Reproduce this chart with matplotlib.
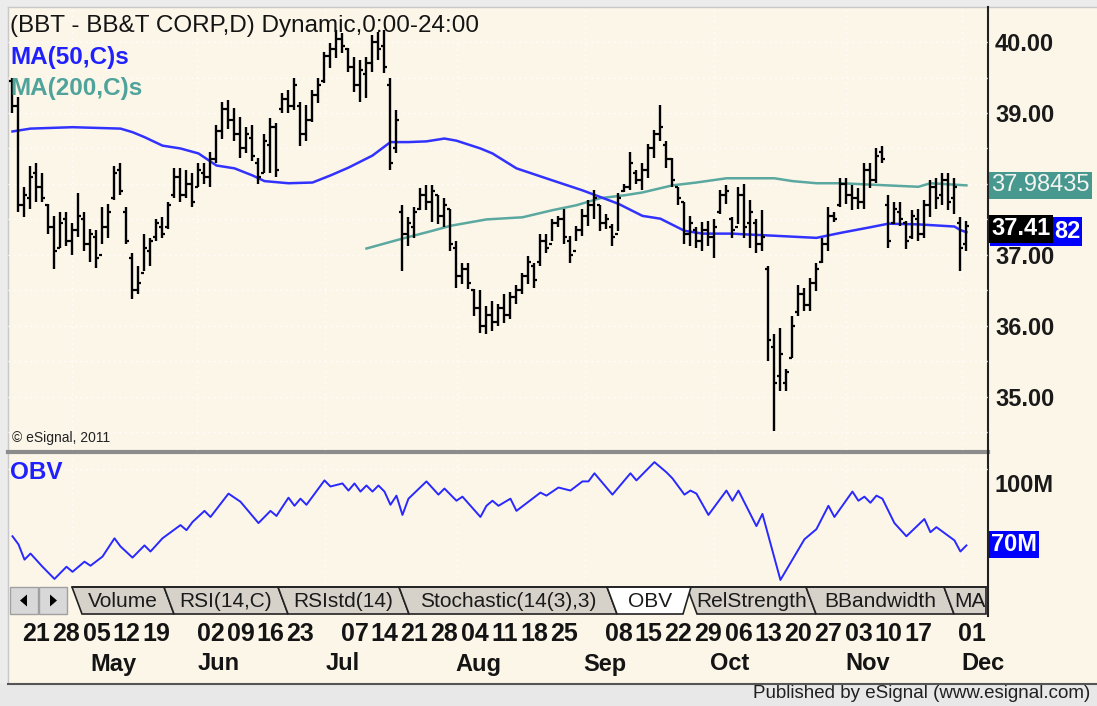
import matplotlib
matplotlib.use("Agg")
import matplotlib.pyplot as plt
from matplotlib.patches import Rectangle, Polygon
from matplotlib.transforms import blended_transform_factory
import numpy as np

plt.rcParams['font.family'] = ['Liberation Sans', 'DejaVu Sans']

# daily bars, BBT, one entry per trading day (index 0 = first bar on screen)
highs = [39.50, 39.22, 37.95, 38.25, 38.30, 38.15, 37.72, 37.55, 37.60, 37.60,
         37.45, 37.87, 37.60, 37.37, 37.35, 37.67, 37.72, 38.26, 38.30, 37.67,
         37.02, 36.85, 37.30, 37.24, 37.50, 37.53, 37.74, 38.23, 38.22, 38.19,
         38.16, 38.29, 38.30, 38.45, 38.83, 39.15, 39.18, 39.07, 38.94, 38.80,
         38.83, 38.37, 38.71, 38.93, 38.86, 39.28, 39.32, 39.50, 39.15, 39.11,
         39.32, 39.50, 39.86, 39.99, 40.17, 40.13, 39.92, 39.79, 39.75, 39.79,
         40.10, 40.14, 40.17, 39.49, 39.04, 37.70, 37.53, 37.67, 37.94, 37.98,
         37.98, 37.84, 37.80, 37.65, 37.20, 36.89, 36.89, 36.52, 36.50, 36.28,
         36.35, 36.31, 36.45, 36.47, 36.57, 36.75, 36.99, 36.88, 37.30, 37.30,
         37.51, 37.55, 37.65, 37.27, 37.41, 37.65, 37.77, 37.91, 37.70, 37.58,
         37.44, 37.87, 38.00, 38.45, 38.19, 38.30, 38.57, 38.76, 39.11, 38.61,
         38.36, 37.95, 37.74, 37.55, 37.39, 37.46, 37.48, 37.51, 37.91, 37.98,
         37.53, 37.95, 38.00, 37.77, 37.50, 37.63, 36.85, 35.89, 35.97, 35.39,
         36.14, 36.57, 36.54, 36.68, 36.89, 37.24, 37.67, 37.60, 38.08, 38.08,
         37.98, 37.94, 38.30, 38.30, 38.50, 38.54, 37.84, 37.74, 37.74, 37.48,
         37.63, 37.65, 37.77, 38.05, 38.08, 38.15, 38.15, 38.09, 37.53, 37.48]
lows = [39.00, 37.60, 37.53, 37.65, 37.75, 37.75, 37.30, 36.80, 37.10, 37.13,
        37.00, 37.25, 37.05, 36.90, 36.82, 37.16, 37.24, 37.77, 37.84, 37.16,
        36.38, 36.45, 36.78, 36.85, 37.20, 37.24, 37.37, 37.80, 37.74, 37.80,
        37.67, 37.95, 38.00, 37.95, 38.29, 38.64, 38.78, 38.60, 38.37, 38.43,
        38.33, 38.00, 38.15, 38.16, 38.10, 39.00, 39.00, 39.04, 38.54, 38.61,
        38.87, 39.14, 39.42, 39.63, 39.77, 39.84, 39.58, 39.29, 39.15, 39.21,
        39.58, 39.75, 39.56, 38.19, 38.43, 36.78, 37.13, 37.24, 37.63, 37.63,
        37.46, 37.44, 37.39, 37.06, 36.54, 36.59, 36.52, 36.14, 35.90, 35.89,
        35.93, 36.00, 36.04, 36.10, 36.31, 36.45, 36.59, 36.54, 36.85, 37.02,
        37.20, 37.39, 37.16, 36.89, 37.20, 37.27, 37.41, 37.51, 37.34, 37.37,
        37.13, 37.34, 37.88, 37.91, 38.00, 37.91, 38.08, 38.37, 38.61, 38.23,
        37.95, 37.70, 37.16, 37.13, 37.10, 37.06, 37.13, 36.96, 37.58, 37.72,
        37.24, 37.44, 37.24, 37.10, 37.03, 37.06, 35.50, 34.52, 35.08, 35.08,
        35.55, 36.14, 36.21, 36.21, 36.49, 36.88, 37.06, 37.46, 37.67, 37.72,
        37.63, 37.65, 37.65, 37.94, 38.02, 38.30, 37.10, 37.44, 37.41, 37.09,
        37.23, 37.20, 37.24, 37.53, 37.65, 37.70, 37.63, 37.58, 36.78, 37.06]
opens = [39.45, 39.10, 37.70, 37.80, 38.15, 37.95, 37.70, 37.40, 37.10, 37.50,
         37.20, 37.35, 37.50, 37.15, 37.25, 37.00, 37.40, 37.80, 38.20, 37.60,
         36.95, 36.50, 36.75, 37.05, 37.25, 37.40, 37.40, 37.85, 38.10, 37.85,
         38.00, 37.95, 38.15, 38.10, 38.35, 38.75, 39.05, 38.90, 38.70, 38.50,
         38.65, 38.30, 38.15, 38.55, 38.80, 39.05, 39.20, 39.10, 39.10, 38.70,
         38.90, 39.25, 39.45, 39.80, 39.90, 40.05, 39.90, 39.65, 39.40, 39.55,
         39.70, 40.00, 39.95, 39.40, 38.50, 37.60, 37.30, 37.40, 37.65, 37.85,
         37.75, 37.85, 37.55, 37.65, 37.10, 36.70, 36.80, 36.50, 36.25, 36.00,
         36.15, 36.05, 36.25, 36.15, 36.40, 36.50, 36.70, 36.85, 36.90, 37.20,
         37.15, 37.45, 37.50, 37.20, 37.05, 37.35, 37.55, 37.70, 37.70, 37.45,
         37.40, 37.30, 37.90, 37.95, 38.15, 38.05, 38.20, 38.50, 38.70, 38.55,
         38.35, 37.95, 37.75, 37.30, 37.35, 37.20, 37.35, 37.25, 37.60, 37.85,
         37.50, 37.40, 37.85, 37.45, 37.45, 37.15, 36.80, 35.70, 35.30, 35.20,
         35.55, 36.20, 36.45, 36.30, 36.60, 36.90, 37.15, 37.55, 37.70, 38.00,
         37.85, 37.80, 37.75, 38.20, 38.05, 38.45, 37.70, 37.45, 37.60, 37.45,
         37.25, 37.50, 37.30, 37.70, 37.95, 37.85, 38.05, 37.80, 37.45, 37.15]
closes = [39.10, 37.70, 37.85, 38.10, 37.95, 37.80, 37.40, 37.05, 37.45, 37.20,
          37.35, 37.55, 37.15, 37.30, 36.95, 37.40, 37.60, 38.15, 37.90, 37.20,
          36.50, 36.60, 37.10, 37.20, 37.45, 37.30, 37.70, 38.10, 37.85, 38.00,
          37.75, 38.20, 38.10, 38.35, 38.75, 39.05, 38.90, 38.70, 38.50, 38.70,
          38.40, 38.10, 38.60, 38.80, 38.20, 39.20, 39.10, 39.40, 38.70, 38.90,
          39.25, 39.40, 39.80, 39.90, 40.05, 39.95, 39.65, 39.40, 39.60, 39.70,
          40.00, 39.90, 39.65, 38.30, 38.90, 37.30, 37.45, 37.60, 37.85, 37.75,
          37.90, 37.55, 37.70, 37.15, 36.70, 36.80, 36.60, 36.25, 36.00, 36.15,
          36.05, 36.25, 36.15, 36.40, 36.50, 36.70, 36.90, 36.65, 37.20, 37.10,
          37.45, 37.50, 37.25, 37.00, 37.35, 37.55, 37.70, 37.80, 37.45, 37.50,
          37.25, 37.80, 37.95, 38.30, 38.05, 38.20, 38.50, 38.70, 38.80, 38.35,
          38.05, 37.80, 37.30, 37.45, 37.20, 37.35, 37.25, 37.40, 37.85, 37.90,
          37.35, 37.85, 37.40, 37.60, 37.15, 37.25, 35.80, 35.20, 35.60, 35.35,
          36.00, 36.45, 36.30, 36.60, 36.80, 37.15, 37.55, 37.50, 38.00, 37.85,
          37.80, 37.75, 38.20, 38.05, 38.40, 38.35, 37.20, 37.65, 37.50, 37.20,
          37.55, 37.30, 37.70, 37.95, 37.80, 38.05, 37.75, 37.95, 37.10, 37.41]

# moving averages (bar index, value)
ma50_idx = [0, 3, 10, 18, 20, 22, 25, 28, 31, 34, 37, 40, 42, 46, 50, 53, 56, 60,
            63, 66, 69, 72, 74, 78, 80, 84, 90, 95, 101, 105, 108, 112, 115, 120,
            122, 127, 134, 138, 143, 146, 151, 157, 158, 159]
ma50_val = [38.74, 38.78, 38.80, 38.78, 38.73, 38.66, 38.54, 38.50, 38.43, 38.26,
            38.22, 38.12, 38.04, 38.01, 38.02, 38.12, 38.23, 38.40, 38.59, 38.59,
            38.60, 38.64, 38.61, 38.50, 38.43, 38.22, 38.05, 37.91, 37.72, 37.55,
            37.51, 37.34, 37.30, 37.30, 37.29, 37.27, 37.24, 37.31, 37.39, 37.44,
            37.43, 37.40, 37.35, 37.32]
ma200_idx = [59, 65, 70, 73, 79, 85, 90, 94, 98, 102, 105, 110, 114, 119, 127,
             130, 134, 138, 151, 153, 159]
ma200_val = [37.09, 37.23, 37.34, 37.41, 37.50, 37.53, 37.63, 37.70, 37.80, 37.84,
             37.88, 37.98, 38.02, 38.08, 38.08, 38.04, 38.01, 38.01, 37.96, 38.01,
             37.98]

# on balance volume, millions (bar index, value)
obv_idx = [0, 1, 2, 3, 5, 7, 9, 10, 12, 13, 15, 17, 18, 20, 22, 23, 25, 28, 29, 30,
           32, 33, 36, 38, 41, 43, 44, 46, 47, 48, 49, 52, 53, 55, 56, 57, 58, 59,
           60, 61, 62, 63, 64, 65, 66, 69, 71, 72, 74, 75, 78, 79, 80, 81, 83, 84,
           86, 88, 89, 91, 93, 95, 96, 97, 100, 103, 104, 107, 109, 110, 112, 113,
           114, 116, 119, 120, 121, 124, 125, 128, 132, 134, 136, 137, 140, 141,
           142, 143, 144, 145, 147, 149, 152, 153, 154, 157, 158, 159]
obv_val = [74, 70, 62.5, 65.5, 59, 53, 59, 56.5, 61.5, 59.5, 64, 73, 69, 63.5, 69.5,
           66.5, 73, 79.5, 77, 81, 86.5, 83.5, 95, 91, 80.5, 86.5, 84, 93, 89, 92.5,
           89.5, 101.5, 98.5, 100, 96.5, 100, 96, 99, 96, 99, 96, 89.5, 94, 84.5,
           92.5, 101, 94.5, 97.5, 91.5, 93.5, 83.5, 89, 91.5, 89, 92.5, 86.5, 91,
           95.5, 94, 98, 96.5, 101, 101, 105, 94.5, 105, 101.5, 110.5, 105.5, 102.5,
           94.5, 96.5, 95, 84.5, 96.5, 91.5, 96.5, 79, 85, 52.5, 72.5, 77.5, 89,
           83.5, 96, 91.5, 93.5, 90.5, 94, 92.5, 80.5, 74, 82.5, 76, 78.5, 72, 66.5,
           69.5]

# axis labels (38.00 sits under the MA(200) flag in the original)
price_ticks = [35, 36, 37, 39, 40]
day_idx = [4, 9, 14, 19, 24, 33, 38, 43, 48, 57, 62, 67, 72, 77, 82, 87, 92,
           101, 106, 111, 116, 121, 126, 131, 136, 141, 146, 151, 160]
day_lbl = ['21', '28', '05', '12', '19', '02', '09', '16', '23', '07', '14', '21',
           '28', '04', '11', '18', '25', '08', '15', '22', '29', '06', '13', '20',
           '27', '03', '10', '17', '01']
month_lbl = ['May', 'Jun', 'Jul', 'Aug', 'Sep', 'Oct', 'Nov', 'Dec']
month_pos = [16.8, 34.3, 55.1, 77.6, 98.8, 119.6, 142.6, 161.8]
vgrid_pos = [9.9, 30.8, 52.1, 74.1, 95.4, 117.0, 139.0, 158.2]
tabs = ['Volume', 'RSI(14,C)', 'RSIstd(14)', 'Stochastic(14(3),3)', 'OBV',
        'RelStrength', 'BBandwidth', 'MA']

CREAM = '#fcf6e9'
FS = 17
W, H = 1097, 706
fig = plt.figure(figsize=(W / 100, H / 100), dpi=100)
fig.patch.set_facecolor('#ececec')

# pixel overlay for the window furniture
ov = fig.add_axes([0, 0, 1, 1])
ov.set_xlim(0, W)
ov.set_ylim(H, 0)
ov.axis('off')
ov.add_patch(Rectangle((8, 7), W - 8, 676, facecolor=CREAM, edgecolor='none'))
ov.plot([8, W], [7, 7], color='#c8c8c8', lw=1)
ov.plot([8, 8], [7, 683], color='#c8c8c8', lw=1)
ov.add_patch(Rectangle((0, 684), W, 22, facecolor='#e8e8e8', edgecolor='none'))
ov.plot([8, W], [683.5, 683.5], color='#555555', lw=1.5)
ov.plot([8, 988], [452, 452], color='#8c8c8c', lw=3)
ov.text(1090, 694, 'Published by eSignal (www.esignal.com)', ha='right',
        va='center', fontsize=13.5, color='#202020')

# tab strip
ty0, ty1 = 587, 614
for bx, arrow in [(10, 'l'), (39, 'r')]:
    ov.add_patch(Rectangle((bx, ty0), 28, ty1 - ty0, facecolor='#d8d8d8',
                           edgecolor='#a0a0a0', lw=1))
    cx, cy = bx + 14, (ty0 + ty1) / 2
    if arrow == 'l':
        tri = [(cx - 4, cy), (cx + 3, cy - 6), (cx + 3, cy + 6)]
    else:
        tri = [(cx + 4, cy), (cx - 3, cy - 6), (cx - 3, cy + 6)]
    ov.add_patch(Polygon(tri, closed=True, facecolor='black', edgecolor='none'))
tab_edges = [72, 164, 278, 399, 607, 687, 806, 944, 986]
for k, name in enumerate(tabs):
    l, r = tab_edges[k], tab_edges[k + 1]
    if name == 'OBV':
        continue
    pts = [(l, ty0), (r, ty0), (min(r + 10, 986), ty1), (l + 10, ty1)]
    ov.add_patch(Polygon(pts, closed=True, facecolor='#d6d2ca', edgecolor='#222222',
                         lw=1.2))
    ov.text((l + r) / 2 + 5, (ty0 + ty1) / 2 + 1, name, ha='center', va='center',
            fontsize=15, color='#1a1a1a', clip_on=True)
k = tabs.index('OBV')
l, r = tab_edges[k], tab_edges[k + 1]
ov.add_patch(Polygon([(l, ty0), (r + 4, ty0), (r - 4, ty1), (l + 10, ty1)],
                     closed=True, facecolor='white', edgecolor='#222222', lw=1.2))
ov.text((l + r) / 2 + 3, (ty0 + ty1) / 2 + 1, 'OBV', ha='center', va='center',
        fontsize=15, color='#1a1a1a')
ov.plot([72, 986], [ty0, ty0], color='#222222', lw=1.2)
ov.plot([988, 988], [7, 616], color='#222222', lw=1.5)

XL = (-0.75, 162.6)
fx0, fw = 8 / W, 980 / W

# price panel
ax = fig.add_axes([fx0, 1 - 450 / H, fw, 442 / H])
ax.set_facecolor('none')
x = np.arange(len(highs))
ax.vlines(x, lows, highs, color='black', lw=1.7, zorder=3)
ax.hlines(opens, x - 0.5, x, color='black', lw=1.6, zorder=3)
ax.hlines(closes, x, x + 0.5, color='black', lw=1.6, zorder=3)
ax.plot(ma200_idx, ma200_val, color='#5aa89f', lw=1.8, zorder=2)
ax.plot(ma50_idx, ma50_val, color='#3232ff', lw=1.8, zorder=2)
for v in np.arange(34.5, 40.5, 0.5):
    ax.axhline(v, color='white', lw=1, ls=(0, (1, 3)), zorder=1)
for v in vgrid_pos:
    ax.axvline(v, color='white', lw=1, ls=(0, (1, 3)), zorder=1)
ax.set_xlim(*XL)
ax.set_ylim(34.25, 40.48)
ax.set_xticks([])
ax.yaxis.tick_right()
ax.set_yticks(price_ticks)
ax.set_yticklabels([f'{v:.2f}' for v in price_ticks])
ax.tick_params(axis='y', length=0, pad=5, labelsize=FS, labelcolor='#1a1a1a')
for t in ax.get_yticklabels():
    t.set_fontweight('bold')
for s in ax.spines.values():
    s.set_visible(False)

ax.text(0.002, 0.985, '(BBT - BB&T CORP,D) Dynamic,0:00-24:00', transform=ax.transAxes,
        ha='left', va='top', fontsize=17.5, color='#141414')
ax.text(0.002, 0.915, 'MA(50,C)s', transform=ax.transAxes, ha='left', va='top',
        fontsize=17.5, fontweight='bold', color='#2020ff')
ax.text(0.002, 0.843, 'MA(200,C)s', transform=ax.transAxes, ha='left', va='top',
        fontsize=17.5, fontweight='bold', color='#4fa39a')
ax.text(0.004, 0.028, '\u00a9 eSignal, 2011', transform=ax.transAxes, ha='left',
        va='center', fontsize=10, color='#222222')

# value flags on the price scale
bt = blended_transform_factory(ax.transAxes, ax.transData)
ax.text(1.003, ma200_val[-1], '37.98435', transform=bt, ha='left', va='center',
        fontsize=FS, color='#f4f4f0', clip_on=False, zorder=6,
        bbox=dict(boxstyle='square,pad=0.1', facecolor='#47988f', edgecolor='none'))
# MA(50) flag: mostly hidden under the last-price flag, only its tail shows
ax.add_patch(Rectangle((1.002, 37.33 - 0.2), 0.094, 0.4, transform=bt,
                       facecolor='#0000ff', edgecolor='none', clip_on=False, zorder=5))
ax.text(1.095, 37.33, '82', transform=bt, ha='right', va='center',
        fontsize=FS, fontweight='bold', color='white', clip_on=False, zorder=6)
ax.text(1.003, 37.37, '37.41', transform=bt, ha='left', va='center',
        fontsize=FS, fontweight='bold', color='white', clip_on=False, zorder=7,
        bbox=dict(boxstyle='square,pad=0.1', facecolor='black', edgecolor='none'))

# OBV panel
ax2 = fig.add_axes([fx0, 1 - 583 / H, fw, 128 / H])
ax2.set_facecolor('none')
ax2.plot(obv_idx, obv_val, color='#2828ff', lw=1.4)
for v in vgrid_pos:
    ax2.axvline(v, color='white', lw=1, ls=(0, (1, 3)), zorder=1)
ax2.axhline(107, color='white', lw=1, ls=(0, (1, 3)), zorder=1)
ax2.set_xlim(*XL)
ax2.set_ylim(51, 114)
ax2.set_xticks([])
ax2.yaxis.tick_right()
ax2.set_yticks([100])
ax2.set_yticklabels(['100M'])
ax2.tick_params(axis='y', length=0, pad=5, labelsize=FS, labelcolor='#1a1a1a')
for t in ax2.get_yticklabels():
    t.set_fontweight('bold')
for s in ax2.spines.values():
    s.set_visible(False)
ax2.text(0.002, 0.86, 'OBV', transform=ax2.transAxes, ha='left', va='center',
         fontsize=17.5, fontweight='bold', color='#2020ff')
bt2 = blended_transform_factory(ax2.transAxes, ax2.transData)
ax2.text(1.003, 70, '70M', transform=bt2, ha='left', va='center', fontsize=FS,
         fontweight='bold', color='white', clip_on=False, zorder=6,
         bbox=dict(boxstyle='square,pad=0.1', facecolor='#0000ff', edgecolor='none'))

# date scale
dt = blended_transform_factory(ax2.transData, fig.transFigure)
for i, lbl in zip(day_idx, day_lbl):
    ax2.text(i, 1 - 634 / H, lbl, transform=dt, ha='center', va='center',
             fontsize=18, fontweight='bold', color='#141414', clip_on=False)
for i, lbl in zip(month_pos, month_lbl):
    ax2.text(i, 1 - 664 / H, lbl, transform=dt, ha='center', va='center',
             fontsize=FS, fontweight='bold', color='#141414', clip_on=False)

fig.savefig('out.png', dpi=100, facecolor=fig.get_facecolor())
